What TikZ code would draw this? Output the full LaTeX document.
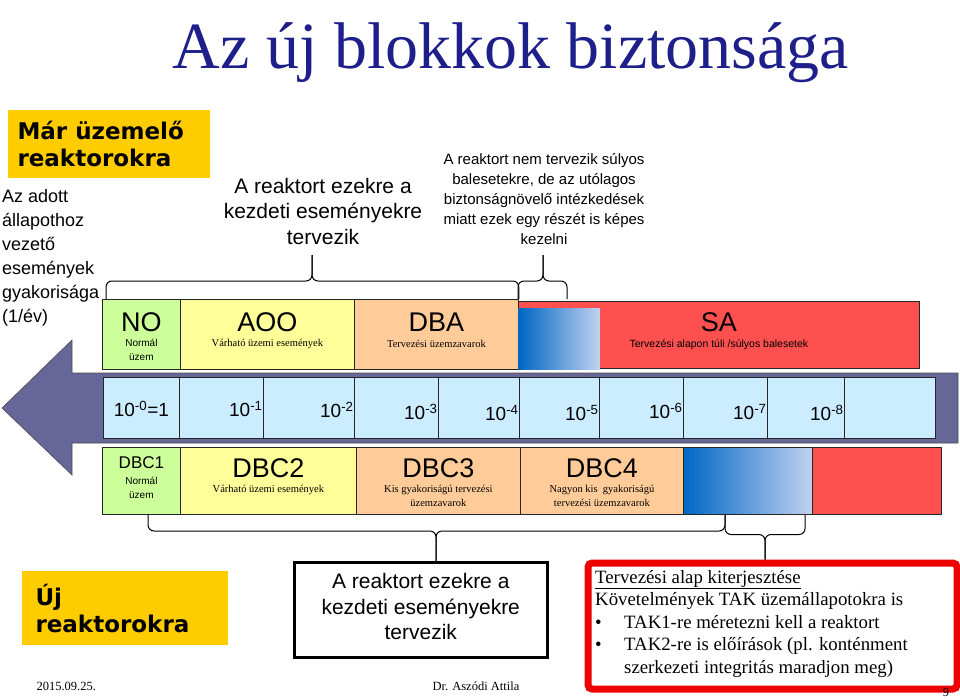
\documentclass[tikz,border=0pt]{standalone}
\usepackage{fontspec}
\setmainfont{Liberation Sans}
\newfontfamily\timesf{Liberation Serif}
\newfontfamily\heavyf{DejaVu Sans}
\usetikzlibrary{positioning}

\definecolor{titleblue}{RGB}{31,31,140}
\definecolor{goldbox}{RGB}{255,204,0}
\definecolor{nogreen}{RGB}{204,255,153}
\definecolor{aooyellow}{RGB}{255,255,153}
\definecolor{dbaorange}{RGB}{255,204,153}
\definecolor{sared}{RGB}{255,80,80}
\definecolor{scaleblue}{RGB}{204,236,255}
\definecolor{arrowpurple}{RGB}{102,102,153}
\definecolor{gradblue}{RGB}{0,102,196}
\definecolor{gradpale}{RGB}{192,210,240}
\definecolor{framered}{RGB}{238,0,0}

\begin{document}
\begin{tikzpicture}[
  x=1pt, y=-1pt,
  cell/.style={draw=black!85, line width=0.8pt, inner sep=0pt, anchor=north west},
  big/.style={font=\fontsize{27}{29}\selectfont},
  smallserif/.style={font=\timesf\fontsize{10.5}{14}\selectfont, align=center},
  smallsans/.style={font=\fontsize{10}{14}\selectfont, align=center},
  head/.style={font=\fontsize{21}{25.5}\selectfont, align=center},
  banner/.style={fill=goldbox, anchor=north west, inner sep=0pt},
  bannertext/.style={font=\heavyf\bfseries\fontsize{23}{27}\selectfont, align=left, anchor=west},
  scalelabel/.style={font=\fontsize{19}{21}\selectfont},
  brace/.style={draw, line width=1pt, rounded corners=6pt},
  foot/.style={font=\timesf\fontsize{12.5}{14}\selectfont}
]
\useasboundingbox (0,0) rectangle (960,699);

% title
\node[font=\timesf\fontsize{66}{70}\selectfont, text=titleblue] (title) at (511,53) {Az új blokkok biztonsága};

% existing reactors
\node[banner, minimum width=202, minimum height=68] (oldbanner) at (8,110) {};
\node[bannertext] at ([xshift=6]oldbanner.west) {Már üzemelő\\reaktorokra};
\node[font=\fontsize{18}{24}\selectfont, align=left, anchor=north west, inner sep=0pt] (freq) at (2,189)
  {Az adott\\állapothoz\\vezető\\események\\gyakorisága\\(1/év)};

% upper row
\node[cell, fill=nogreen, minimum width=78, minimum height=70] (NO) at (102,299) {};
\node[cell, fill=aooyellow, minimum width=174, minimum height=70] (AOO) at (180,299) {};
\node[cell, fill=dbaorange, minimum width=164, minimum height=70] (DBA) at (354,299) {};
\node[cell, fill=sared, minimum width=401, minimum height=67] (SA) at (518,301) {};
\node[anchor=north west, inner sep=0pt, minimum width=81, minimum height=61,
  left color=gradblue, right color=gradpale] (SAgrad) at (518.5,308) {};

\node[big] at ([yshift=-23]NO.north) {NO};
\node[smallsans] at ([yshift=-51]NO.north) {Normál\\üzem};
\node[big] at ([yshift=-23]AOO.north) {AOO};
\node[smallserif] at ([yshift=-45]AOO.north) {Várható üzemi események};
\node[big] at ([yshift=-23]DBA.north) {DBA};
\node[smallserif] at ([yshift=-45]DBA.north) {Tervezési üzemzavarok};
\node[big] at ([yshift=-21]SA.north) {SA};
\node[smallsans, font=\fontsize{10.5}{14}\selectfont] at ([yshift=-44]SA.north) {Tervezési alapon túli /súlyos balesetek};

% frequency arrow
\draw[fill=arrowpurple, draw=black!70, line width=0.6pt]
  (2,408) -- (72,340) -- (72,373) -- (958,373) -- (958,443) -- (72,443) -- (72,475) -- cycle;
\foreach \a/\b [count=\i] in {103/179,179/263,263/354,354/438,438/519,519/599,599/683,683/767,767/844,844/935}
  \node[cell, fill=scaleblue, minimum width=\b-\a, minimum height=61] (s\i) at (\a,377) {};
\node[scalelabel] at ([yshift=-1]s1) {10\textsuperscript{-0}=1};
\foreach \i/\e/\dy in {2/1/1,3/2/2,4/3/4,5/4/5,6/5/5,7/6/3,8/7/4,9/8/5}
  \node[scalelabel, anchor=east, inner sep=1pt] at ([yshift=-\dy]s\i.east) {10\textsuperscript{-\e}};

% lower row
\node[cell, fill=nogreen, minimum width=78, minimum height=67] (DBC1) at (102,447) {};
\node[cell, fill=aooyellow, minimum width=176, minimum height=67] (DBC2) at (180,447) {};
\node[cell, fill=dbaorange, minimum width=164, minimum height=67] (DBC3) at (356,447) {};
\node[cell, fill=dbaorange, minimum width=163, minimum height=67] (DBC4) at (520,447) {};
\node[cell, left color=gradblue, right color=gradpale, minimum width=129, minimum height=67] (DBCgrad) at (683,447) {};
\node[cell, fill=sared, minimum width=129, minimum height=67] (DBCred) at (812,447) {};

\node[font=\fontsize{17}{19}\selectfont] at ([yshift=-16]DBC1.north) {DBC1};
\node[smallsans] at ([yshift=-41]DBC1.north) {Normál\\üzem};
\node[big] at ([yshift=-21]DBC2.north) {DBC2};
\node[smallserif] at ([yshift=-43]DBC2.north) {Várható üzemi események};
\node[big] at ([yshift=-21]DBC3.north) {DBC3};
\node[smallserif] at ([yshift=-49]DBC3.north) {Kis gyakoriságú tervezési\\üzemzavarok};
\node[big] at ([yshift=-21]DBC4.north) {DBC4};
\node[smallserif] at ([yshift=-49]DBC4.north) {Nagyon kis\ \ gyakoriságú\\tervezési üzemzavarok};

% upper comments and braces
\node[head] (designA) at (323,211) {A reaktort ezekre a\\kezdeti eseményekre\\tervezik};
\node[font=\fontsize{15}{19.8}\selectfont, align=center] (partly) at (544,199)
  {A reaktort nem tervezik súlyos\\balesetekre, de az utólagos\\biztonságnövelő intézkedések\\miatt ezek egy részét is képes\\kezelni};
\coordinate (tipA) at (312,255);
\coordinate (tipB) at (543,255);
\draw[brace] ([xshift=4]NO.north west) |- ([yshift=-26]tipA) -- (tipA);
\draw[brace] (DBA.north east) |- ([yshift=-26]tipA) -- (tipA);
\draw[brace] ([yshift=2]SA.north west) |- ([yshift=-26]tipB) -- (tipB);
\draw[brace] ([xshift=49,yshift=2]SA.north west) |- ([yshift=-26]tipB) -- (tipB);

% new reactors
\node[banner, minimum width=206, minimum height=74] (newbanner) at (22,571) {};
\node[bannertext] at ([xshift=10]newbanner.west) {Új\\reaktorokra};
\node[draw, line width=2.5pt, minimum width=253, minimum height=95, anchor=north west] (designB) at (293,561) {};
\node[head] at ([yshift=3]designB.center) {A reaktort ezekre a\\kezdeti eseményekre\\tervezik};
\node[draw=framered, line width=7pt, rounded corners=4pt, minimum width=369, minimum height=126, anchor=north west] (extend) at (584.5,559.5) {};
\node[font=\timesf\fontsize{18.8}{22.5}\selectfont, align=left, anchor=north west, inner sep=0pt] at (595,570)
  {\underline{Tervezési alap kiterjesztése}\\
   Követelmények TAK üzemállapotokra is\\
   \makebox[29pt][l]{•}TAK1-re méretezni kell a reaktort\\
   \makebox[29pt][l]{•}TAK2-re is előírások (pl. konténment\\
   \hspace*{29pt}szerkezeti integritás maradjon meg)};

% lower braces
\coordinate (tipC) at (designB.north -| 436,0);
\coordinate (tipD) at (extend.north -| 765,0);
\draw[brace] (148,514) |- ([yshift=30]tipC) -- (tipC);
\draw[brace] (DBCgrad.south -| 725,0) |- ([yshift=30]tipC) -- (tipC);
\draw[brace] (DBCgrad.south -| 725,0) |- ([yshift=25]tipD) -- (tipD);
\draw[brace] (DBCgrad.south -| 805,0) |- ([yshift=25]tipD) -- (tipD);

% footer
\node[foot, anchor=west] (date) at (33,686) {2015.09.25.};
\node[foot, anchor=west] (author) at (429,686) {Dr. Aszódi Attila};
\node[foot] (page) at (946,692) {9};
\end{tikzpicture}
\end{document}
